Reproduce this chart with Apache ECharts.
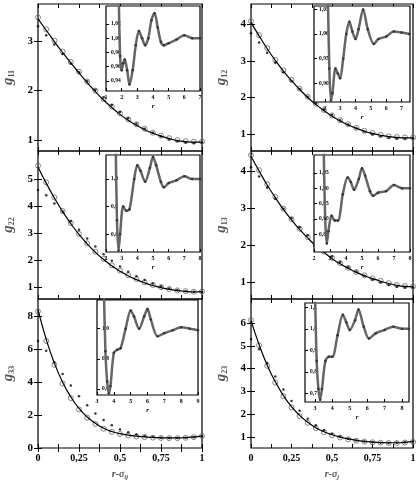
<!DOCTYPE html>
<html><head><meta charset="utf-8">
<script src="https://cdn.jsdelivr.net/npm/echarts@6/dist/echarts.min.js"></script>
<style>html,body{margin:0;padding:0;background:#fff}#c{width:419px;height:483px}</style>
</head><body><div id="c"></div>
<script>
const X = [0,0.05,0.1,0.15,0.2,0.25,0.3,0.35,0.4,0.45,0.5,0.55,0.6,0.65,0.7,0.75,0.8,0.85,0.9,0.95,1];
const mainXTicks = [0,0.125,0.25,0.375,0.5,0.625,0.75,0.875,1];
const mainXLabels = [0,0.25,0.5,0.75,1];

const g11Line = [3.45,3.22,2.99,2.77,2.56,2.36,2.16,1.98,1.81,1.66,1.52,1.40,1.30,1.21,1.14,1.08,1.03,0.99,0.97,0.96,0.96];
const g11Circ = [3.48,3.24,3.01,2.79,2.58,2.38,2.18,2.00,1.83,1.68,1.54,1.42,1.32,1.23,1.15,1.09,1.04,1.00,0.98,0.97,0.97];
const g11Dots = [3.30,3.12,2.93,2.74,2.55,2.37,2.19,2.02,1.86,1.71,1.57,1.44,1.33,1.23,1.15,1.08,1.02,0.98,0.95,0.94,0.95];
const g12Line = [4.05,3.68,3.33,3.01,2.72,2.46,2.22,2.00,1.81,1.64,1.49,1.36,1.25,1.16,1.08,1.02,0.97,0.93,0.91,0.90,0.90];
const g12Circ = [4.08,3.70,3.35,3.03,2.74,2.48,2.24,2.02,1.83,1.66,1.51,1.38,1.27,1.17,1.09,1.03,0.98,0.94,0.92,0.91,0.91];
const g12Dots = [3.75,3.50,3.22,2.95,2.69,2.45,2.23,2.02,1.84,1.67,1.52,1.38,1.26,1.16,1.07,1.00,0.94,0.90,0.88,0.88,0.89];
const g22Line = [5.45,4.85,4.30,3.80,3.35,2.95,2.60,2.29,2.02,1.79,1.59,1.42,1.28,1.16,1.06,0.98,0.92,0.87,0.84,0.82,0.83];
const g22Circ = [5.50,4.88,4.32,3.82,3.37,2.97,2.62,2.31,2.04,1.81,1.61,1.44,1.30,1.18,1.08,1.00,0.93,0.88,0.85,0.83,0.84];
const g22Dots = [4.60,4.40,4.10,3.80,3.45,3.12,2.80,2.50,2.22,1.98,1.76,1.57,1.40,1.26,1.13,1.03,0.95,0.89,0.85,0.83,0.82];
const g13Line = [4.40,4.00,3.62,3.28,2.96,2.68,2.42,2.19,1.98,1.80,1.63,1.49,1.37,1.26,1.17,1.09,1.02,0.96,0.91,0.88,0.87];
const g13Circ = [4.43,4.02,3.64,3.30,2.98,2.70,2.44,2.21,2.00,1.82,1.65,1.51,1.38,1.27,1.18,1.10,1.03,0.97,0.92,0.89,0.88];
const g13Dots = [4.10,3.85,3.55,3.25,2.98,2.72,2.48,2.26,2.05,1.86,1.69,1.54,1.40,1.28,1.17,1.07,0.99,0.92,0.87,0.85,0.85];
const g33Line = [8.40,6.60,5.15,4.00,3.10,2.40,1.88,1.50,1.20,1.00,0.87,0.78,0.72,0.67,0.64,0.62,0.61,0.61,0.63,0.67,0.74];
const g33Circ = [8.30,6.50,5.05,3.92,3.03,2.34,1.84,1.46,1.17,0.98,0.85,0.76,0.70,0.66,0.63,0.61,0.60,0.60,0.62,0.66,0.73];
const g33Dots = [6.50,5.90,5.20,4.50,3.80,3.15,2.60,2.10,1.70,1.38,1.12,0.95,0.82,0.73,0.67,0.63,0.61,0.60,0.62,0.66,0.72];
const g23Line = [6.10,5.05,4.15,3.42,2.82,2.33,1.95,1.65,1.41,1.23,1.10,1.00,0.92,0.86,0.81,0.78,0.76,0.75,0.75,0.77,0.80];
const g23Circ = [6.12,5.02,4.12,3.39,2.79,2.30,1.92,1.62,1.39,1.21,1.08,0.98,0.90,0.84,0.80,0.77,0.75,0.74,0.74,0.76,0.79];
const g23Dots = [5.30,4.85,4.25,3.65,3.08,2.58,2.15,1.80,1.52,1.30,1.13,1.01,0.92,0.85,0.80,0.77,0.75,0.74,0.75,0.77,0.80];

const in11R = [1.8,1.9,2.0,2.1,2.2,2.35,2.5,2.7,2.9,3.1,3.3,3.5,3.7,3.9,4.1,4.3,4.5,4.7,5.0,5.5,6.0,6.5,7.0];
const in11G = [1.08,0.975,0.955,0.965,0.97,0.955,0.935,0.955,0.99,1.01,1.0,0.99,1.0,1.025,1.035,1.015,0.995,0.99,0.993,0.998,1.004,1.0,1.0];
const in12R = [2.2,2.3,2.4,2.5,2.7,2.85,3.0,3.2,3.4,3.6,3.8,4.0,4.2,4.5,4.8,5.2,5.5,6.0,6.5,7.0,7.5];
const in12G = [1.08,0.93,0.865,0.88,0.93,0.92,0.91,0.95,1.0,1.025,1.005,0.99,1.01,1.05,1.01,0.98,0.99,0.995,1.005,1.003,1.0];
const in22R = [2.6,2.7,2.8,2.9,3.1,3.3,3.5,3.8,4.0,4.2,4.5,4.8,5.0,5.2,5.5,5.7,6.0,6.5,7.0,7.5,8.0];
const in22G = [1.2,0.85,0.74,0.8,0.9,0.885,0.89,1.0,1.05,1.03,0.99,1.04,1.08,1.05,0.99,0.97,0.985,0.995,1.01,1.0,1.0];
const in13R = [2.6,2.7,2.8,2.9,3.1,3.3,3.5,3.8,4.1,4.3,4.5,4.8,5.0,5.2,5.5,5.7,6.0,6.5,7.0,7.5,8.0];
const in13G = [1.15,0.9,0.82,0.86,0.91,0.895,0.895,0.98,1.035,1.02,0.995,1.03,1.065,1.04,0.99,0.975,0.985,0.99,1.01,1.0,1.0];
const in33R = [3.4,3.5,3.6,3.7,3.8,4.0,4.2,4.4,4.7,5.0,5.2,5.5,5.8,6.0,6.2,6.6,7.0,7.5,8.0,8.5,9.0];
const in33G = [1.3,0.85,0.65,0.57,0.62,0.84,0.86,0.87,1.0,1.12,1.08,1.0,1.08,1.13,1.06,0.95,0.97,0.99,1.01,1.0,0.99];
const in23R = [3.0,3.1,3.2,3.3,3.4,3.6,3.8,4.0,4.3,4.6,4.8,5.0,5.3,5.5,5.8,6.1,6.5,7.0,7.5,8.0,8.4];
const in23G = [1.2,0.85,0.72,0.67,0.72,0.85,0.87,0.87,0.97,1.065,1.03,0.995,1.04,1.09,1.01,0.955,0.98,0.995,1.01,1.0,1.0];

const panels = [
 {sub:'11', line:g11Line, circ:g11Circ, dots:g11Dots, ymin:0.78, ymax:3.75, yt:[1,2,3], bottom:false,
  g:{left:38,top:4,width:164,height:147}, ig:{left:106,top:6,width:94,height:85},
  ir:in11R, iv:in11G, ix:[1,7], ixt:[1,2,3,4,5,6,7], iy:[0.926,1.045], iyt:[0.94,0.96,0.98,1.00,1.02], dec:2},
 {sub:'12', line:g12Line, circ:g12Circ, dots:g12Dots, ymin:0.54, ymax:4.55, yt:[1,2,3,4], bottom:false,
  g:{left:251,top:4,width:162,height:147}, ig:{left:314,top:6,width:96,height:96},
  ir:in12R, iv:in12G, ix:[1.3,7.55], ixt:[2,3,4,5,6,7], iy:[0.862,1.057], iyt:[0.90,0.95,1.00,1.05], dec:2},
 {sub:'22', line:g22Line, circ:g22Circ, dots:g22Dots, ymin:0.56, ymax:6.04, yt:[1,2,3,4,5], bottom:false,
  g:{left:38,top:151,width:164,height:148}, ig:{left:106,top:155,width:94,height:97},
  ir:in22R, iv:in22G, ix:[2,8], ixt:[2,3,4,5,6,7,8], iy:[0.735,1.087], iyt:[0.8,0.9,1.0], dec:1},
 {sub:'13', line:g13Line, circ:g13Circ, dots:g13Dots, ymin:0.54, ymax:4.54, yt:[1,2,3,4], bottom:false,
  g:{left:251,top:151,width:162,height:148}, ig:{left:314,top:155,width:96,height:97},
  ir:in13R, iv:in13G, ix:[2,8], ixt:[2,3,4,5,6,7,8], iy:[0.792,1.108], iyt:[0.85,0.90,0.95,1.00,1.05], dec:2},
 {sub:'33', line:g33Line, circ:g33Circ, dots:g33Dots, ymin:0, ymax:9.05, yt:[0,2,4,6,8], bottom:true, xname:'ij',
  g:{left:38,top:299,width:164,height:149}, ig:{left:97,top:300,width:101,height:95},
  ir:in33R, iv:in33G, ix:[3,9], ixt:[3,4,5,6,7,8,9], iy:[0.56,1.19], iyt:[0.6,0.8,1.0], dec:1},
 {sub:'23', line:g23Line, circ:g23Circ, dots:g23Dots, ymin:0.52, ymax:7.05, yt:[1,2,3,4,5,6], bottom:true, xname:'j',
  g:{left:251,top:299,width:162,height:149}, ig:{left:305,top:303,width:104,height:99},
  ir:in23R, iv:in23G, ix:[2.43,8.4], ixt:[3,4,5,6,7,8], iy:[0.66,1.12], iyt:[0.7,0.8,0.9,1.0,1.1], dec:1}
];

const FONT = 'Liberation Serif';
const grid=[], xAxis=[], yAxis=[], series=[];
const pair = (xs, ys) => xs.map((x,i)=>[x, ys[i]]);
const comma = d => v => Number(v).toFixed(d).replace('.', ',');
const mainLabel = v => (v===0||v===1) ? String(v) : String(v).replace('.', ',');

panels.forEach(p => {
  const gi = grid.length;
  grid.push(Object.assign({show:true, borderColor:'#000', borderWidth:1.2, backgroundColor:'transparent', z:0}, p.g));
  const xi = xAxis.length, yi = yAxis.length;
  xAxis.push({type:'value', gridIndex:gi, min:0, max:1, position:'bottom',
    axisLine:{show:false}, splitLine:{show:false},
    axisTick:{inside:true, length:4, customValues:mainXTicks, lineStyle:{color:'#000'}},
    axisLabel:{show:p.bottom, customValues:mainXLabels, formatter:mainLabel, fontFamily:FONT, fontWeight:'bold', fontSize:10, color:'#000', margin:5},
    name: p.bottom ? '{a|r-σ}{s|'+p.xname+'}' : '', nameLocation:'middle', nameGap:20,
    nameTextStyle:{rich:{a:{fontFamily:FONT, fontStyle:'italic', fontWeight:'bold', fontSize:10},
      s:{fontFamily:FONT, fontStyle:'italic', fontWeight:'bold', fontSize:7, padding:[6,0,0,0]}}}});
  xAxis.push({type:'value', gridIndex:gi, min:0, max:1, position:'top',
    axisLine:{show:false}, splitLine:{show:false}, axisLabel:{show:false},
    axisTick:{inside:true, length:4, customValues:mainXTicks, lineStyle:{color:'#000'}}});
  yAxis.push({type:'value', gridIndex:gi, min:p.ymin, max:p.ymax, position:'left',
    axisLine:{show:false}, splitLine:{show:false},
    axisTick:{inside:true, length:4, customValues:p.yt, lineStyle:{color:'#000'}},
    axisLabel:{customValues:p.yt, fontFamily:FONT, fontWeight:'bold', fontSize:11, color:'#000', margin:5},
    name:'{g|g}{s|'+p.sub+'}', nameLocation:'middle', nameGap:22, nameRotate:90,
    nameTextStyle:{rich:{g:{fontFamily:FONT, fontStyle:'italic', fontWeight:'bold', fontSize:15},
      s:{fontFamily:FONT, fontWeight:'bold', fontSize:8, padding:[6,0,0,0]}}}});
  yAxis.push({type:'value', gridIndex:gi, min:p.ymin, max:p.ymax, position:'right',
    axisLine:{show:false}, splitLine:{show:false}, axisLabel:{show:false},
    axisTick:{inside:true, length:4, customValues:p.yt, lineStyle:{color:'#000'}}});
  series.push({type:'scatter', xAxisIndex:xi, yAxisIndex:yi, data:pair(X,p.circ), symbol:'circle', symbolSize:5,
    itemStyle:{color:'rgba(255,255,255,0)', borderColor:'#666', borderWidth:1}, z:2, silent:true});
  series.push({type:'line', xAxisIndex:xi, yAxisIndex:yi, data:pair(X,p.line), showSymbol:false, smooth:true,
    lineStyle:{color:'#000', width:1.2}, z:3, silent:true});
  series.push({type:'scatter', xAxisIndex:xi, yAxisIndex:yi, data:pair(X,p.dots), symbol:'circle', symbolSize:2.5,
    itemStyle:{color:'#000'}, z:4, silent:true});

  const ig = grid.length;
  grid.push(Object.assign({show:true, borderColor:'#000', borderWidth:1.2, backgroundColor:'#fff', z:5}, p.ig));
  const ixi = xAxis.length, iyi = yAxis.length;
  xAxis.push({type:'value', gridIndex:ig, min:p.ix[0], max:p.ix[1], z:6,
    axisLine:{show:false}, splitLine:{show:false},
    axisTick:{inside:true, length:3, customValues:p.ixt, lineStyle:{color:'#000'}},
    axisLabel:{customValues:p.ixt, fontFamily:FONT, fontWeight:'bold', fontSize:6, color:'#000', margin:3},
    name:'r', nameLocation:'middle', nameGap:12,
    nameTextStyle:{fontFamily:FONT, fontStyle:'italic', fontWeight:'bold', fontSize:7, color:'#000'}});
  yAxis.push({type:'value', gridIndex:ig, min:p.iy[0], max:p.iy[1], z:6,
    axisLine:{show:false}, splitLine:{show:false},
    axisTick:{inside:true, length:3, customValues:p.iyt, lineStyle:{color:'#000'}},
    axisLabel:{inside:true, customValues:p.iyt, formatter:comma(p.dec), fontFamily:FONT, fontWeight:'bold', fontSize:5.5, color:'#000', margin:5}});
  series.push({type:'line', xAxisIndex:ixi, yAxisIndex:iyi, data:pair(p.ir,p.iv), smooth:0.3, clip:true,
    symbol:'circle', symbolSize:2.5, itemStyle:{color:'#333'},
    lineStyle:{color:'#666', width:2.5}, z:7, silent:true});
});

const chart = echarts.init(document.getElementById('c'), null, {renderer:'canvas'});
chart.setOption({animation:false, backgroundColor:'#fff', grid, xAxis, yAxis, series});
</script></body></html>
